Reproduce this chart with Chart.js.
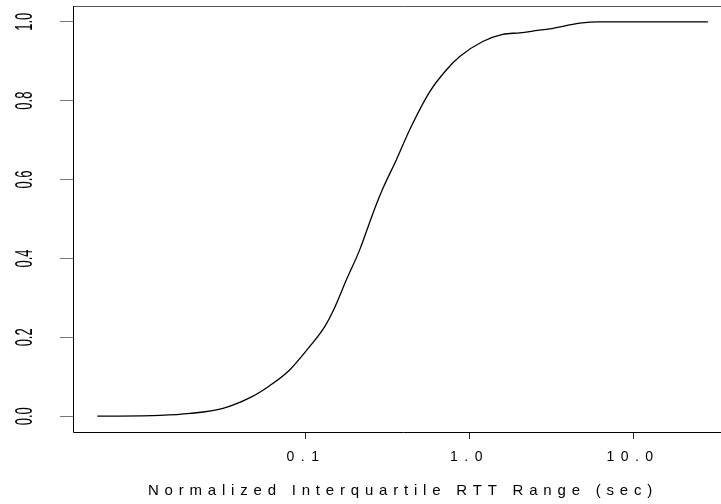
<!DOCTYPE html>
<html>
<head>
<meta charset="utf-8">
<script src="https://cdn.jsdelivr.net/npm/chart.js@4/dist/chart.umd.min.js"></script>
<style>
  html, body { margin: 0; padding: 0; background: #fff; overflow: hidden; }
  canvas { display: block; }
</style>
</head>
<body>
<canvas id="cdf" width="745" height="504"></canvas>
<script>
// CDF of normalized interquartile RTT range
const RTT_RANGE = [0.0053, 0.0128, 0.0196, 0.0311, 0.0455, 0.0603, 0.0798, 0.1058, 0.1306, 0.148,
  0.1773, 0.2137, 0.2577, 0.2966, 0.3581, 0.4317, 0.572, 0.726, 0.872, 1.206,
  1.597, 2.03, 2.61, 3.09, 4.72, 6.25, 28.7];
const CDF = [0, 0.002, 0.007, 0.020, 0.047, 0.078, 0.118, 0.1775, 0.228, 0.2705,
  0.347, 0.423, 0.516, 0.579, 0.651, 0.727, 0.823, 0.879, 0.912, 0.950,
  0.968, 0.972, 0.978, 0.982, 0.9965, 1.0, 1.0];

const X_TICKS = [0.1, 1, 10];
const X_TICK_LABELS = ['0.1', '1.0', '10.0'];
const Y_TICKS = [0, 0.2, 0.4, 0.6, 0.8, 1.0];
const X_TITLE = 'Normalized Interquartile RTT Range (sec)';

// R-style axis limits (4% extension of the data range)
const X_MIN = Math.pow(10, -2.4245);
const X_MAX = Math.pow(10, 1.6115);

const FONT = "'Liberation Sans', Arial, sans-serif";

// box around the plot region: axis sides dark, the others lighter
const boxPlugin = {
  id: 'box',
  beforeDatasetsDraw(chart) {
    const { ctx, chartArea: a } = chart;
    ctx.save();
    ctx.lineWidth = 1;
    ctx.strokeStyle = '#555';
    ctx.beginPath();
    ctx.moveTo(a.left, a.top + 0.5);
    ctx.lineTo(a.right + 0.5, a.top + 0.5);
    ctx.lineTo(a.right + 0.5, a.bottom);
    ctx.stroke();
    ctx.strokeStyle = '#000';
    ctx.beginPath();
    ctx.moveTo(a.left + 0.5, a.top);
    ctx.lineTo(a.left + 0.5, a.bottom + 0.5);
    ctx.lineTo(a.right + 0.5, a.bottom + 0.5);
    ctx.stroke();
    ctx.restore();
  },
};

// the reference's horizontal texts are widely letter-spaced
function spaceOut(scale) {
  if (scale._patched) return;
  scale._patched = true;
  const drawLabels = scale.drawLabels.bind(scale);
  const drawTitle = scale.drawTitle.bind(scale);
  scale.drawLabels = (area) => {
    scale.ctx.letterSpacing = '6.5px';
    drawLabels(area);
    scale.ctx.letterSpacing = '0px';
  };
  scale.drawTitle = (area) => {
    scale.ctx.letterSpacing = '5.8px';
    drawTitle(area);
    scale.ctx.letterSpacing = '0px';
  };
}

// the rotated y labels are tall and narrow: stretch them across the axis
function stretchY(scale) {
  if (scale._patched) return;
  scale._patched = true;
  const drawLabels = scale.drawLabels.bind(scale);
  scale.drawLabels = (area) => {
    const items = scale.getLabelItems(area);
    const xc = items.length ? items[0].options.translation[0] : 0;
    const ctx = scale.ctx;
    ctx.save();
    ctx.translate(xc, 0);
    ctx.scale(1.85, 1);
    ctx.translate(-xc, 0);
    drawLabels(area);
    ctx.restore();
  };
}

new Chart(document.getElementById('cdf'), {
  type: 'line',
  data: {
    datasets: [{
      data: RTT_RANGE.map((x, i) => ({ x, y: CDF[i] })),
      borderColor: '#000',
      borderWidth: 1.3,
      pointRadius: 0,
      fill: false,
      cubicInterpolationMode: 'monotone',
    }],
  },
  options: {
    responsive: false,
    animation: false,
    events: [],
    layout: { padding: { top: 6, right: 12, left: 0, bottom: 0 } },
    plugins: { legend: { display: false }, tooltip: { enabled: false } },
    scales: {
      x: {
        type: 'logarithmic',
        min: X_MIN,
        max: X_MAX,
        border: { display: false },
        grid: { drawOnChartArea: false, drawTicks: true, tickLength: 7, color: '#222' },
        afterBuildTicks: (scale) => { scale.ticks = X_TICKS.map(v => ({ value: v })); },
        afterFit: (scale) => { scale.height = 72; scale.paddingLeft = 0; scale.paddingRight = 0; },
        afterUpdate: spaceOut,
        ticks: {
          autoSkip: false,
          maxRotation: 0,
          padding: 10,
          color: '#000',
          font: { family: FONT, size: 14 },
          callback: (v, i) => X_TICK_LABELS[i],
        },
        title: {
          display: true,
          text: X_TITLE,
          color: '#000',
          font: { family: FONT, size: 15 },
          padding: { top: 0, bottom: 4 },
        },
      },
      y: {
        type: 'linear',
        min: -0.04,
        max: 1.04,
        border: { display: false },
        grid: { drawOnChartArea: false, drawTicks: true, tickLength: 13, color: '#777' },
        afterBuildTicks: (scale) => { scale.ticks = Y_TICKS.map(v => ({ value: v })); },
        afterFit: (scale) => { scale.width = 73; scale.paddingTop = 0; scale.paddingBottom = 0; },
        afterUpdate: stretchY,
        ticks: {
          autoSkip: false,
          minRotation: 90,
          maxRotation: 90,
          crossAlign: 'center',
          padding: 26,
          color: '#000',
          font: { family: FONT, size: 13 },
          callback: (v) => v.toFixed(1),
        },
      },
    },
  },
  plugins: [boxPlugin],
});
</script>
</body>
</html>
